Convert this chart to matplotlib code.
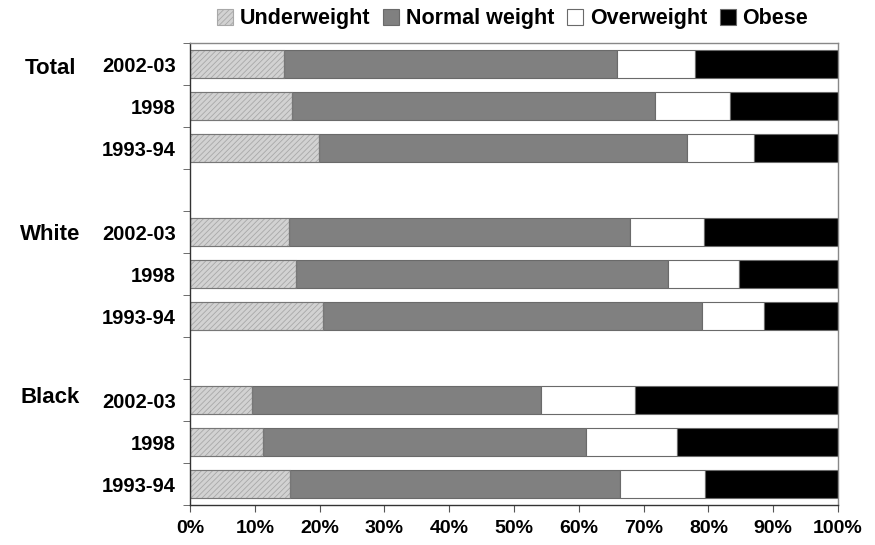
import matplotlib
matplotlib.use("Agg")
import matplotlib.pyplot as plt
import numpy as np

plt.rcParams['font.family'] = ['Liberation Sans', 'DejaVu Sans']
plt.rcParams['hatch.linewidth'] = 0.6

groups = ["Total", "White", "Black"]
years = ["2002-03", "1998", "1993-94"]
categories = ["Underweight", "Normal weight", "Overweight", "Obese"]

# segment widths (percent)
underweight = [14.5, 15.7, 19.9, 15.3, 16.4, 20.5, 9.6, 11.2, 15.4]
normal = [51.4, 56.1, 56.8, 52.6, 57.4, 58.5, 44.5, 49.9, 50.9]
overweight = [12.0, 11.5, 10.3, 11.4, 10.9, 9.6, 14.5, 14.1, 13.1]
obese = [22.1, 16.7, 13.0, 20.7, 15.3, 11.4, 31.4, 24.8, 20.6]

colors = ["#d2d2d2", "#808080", "#ffffff", "#000000"]
hatches = ["//////", None, None, None]

fig = plt.figure(figsize=(8.75, 5.45), dpi=100)
ax = fig.add_axes([190/875, 1-505/545, (838-190)/875, (505-43)/545])

positions = [0, 1, 2, 4, 5, 6, 8, 9, 10]
series = [underweight, normal, overweight, obese]
left = np.zeros(len(positions))
for name, vals, c, h in zip(categories, series, colors, hatches):
    vals = np.array(vals)
    ax.barh(positions, vals, left=left, height=0.67, color=c, hatch=h,
            edgecolor="#6a6a6a" if h is None else "#a8a8a8", linewidth=0.8,
            label=name)
    left += vals

ax.barh(positions, underweight, height=0.67, fill=False, edgecolor="#777777", linewidth=0.8)

ax.set_xlim(0, 100)
ax.set_ylim(10.5, -0.5)
ax.set_xticks(np.arange(0, 101, 10))
ax.set_xticklabels([f"{v}%" for v in range(0, 101, 10)], fontsize=14, fontweight="bold")
ax.set_yticks(positions)
ax.set_yticklabels(years * 3, fontsize=14.5, fontweight="bold")
ax.tick_params(axis='y', which='major', length=0, pad=10)
ax.set_yticks(np.arange(-0.5, 11, 1), minor=True)
ax.tick_params(axis='y', which='minor', length=5, color="#555555", direction='out')
ax.tick_params(axis='x', which='major', length=5, color="#555555", direction='out', pad=6)

for s in ax.spines.values():
    s.set_color("#888888")
    s.set_linewidth(1.0)
ax.spines['left'].set_color("#333333")
ax.spines['bottom'].set_color("#333333")

for g, p, off in zip(groups, [0, 4, 8], [0.05, 0.0, -0.12]):
    ax.text(-21.6, p + off, g, transform=ax.transData, ha="center", va="center_baseline",
            fontsize=16, fontweight="bold", clip_on=False)

leg = fig.legend(loc="upper center", bbox_to_anchor=(0.586, 1.02), ncol=4, frameon=False,
                 prop={"weight": "bold", "size": 15.5}, handlelength=0.75, handleheight=0.75,
                 handletextpad=0.3, columnspacing=0.6)

fig.savefig("out.png", dpi=100)
